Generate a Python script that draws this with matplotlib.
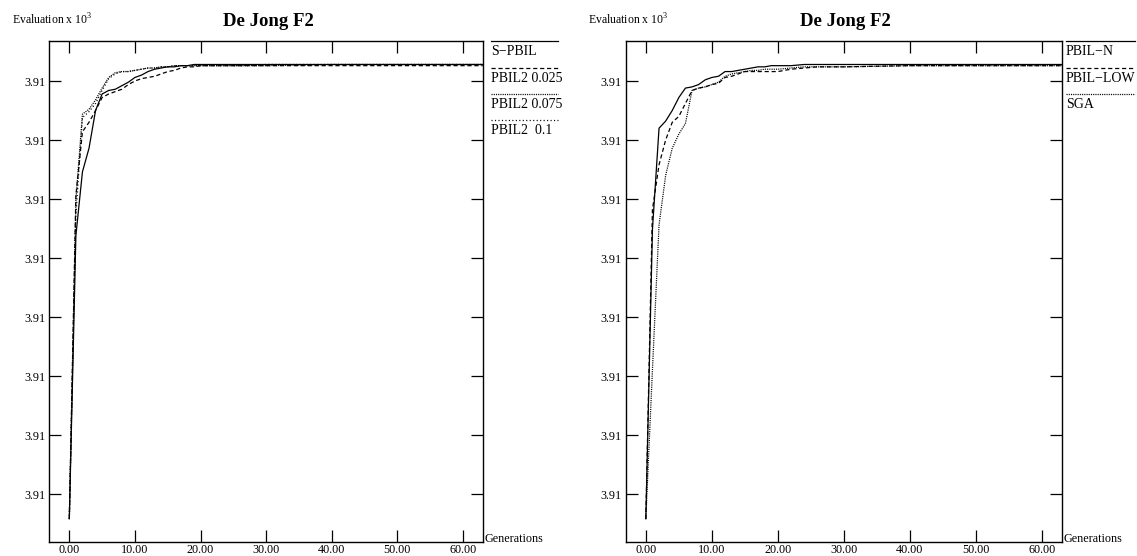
import matplotlib
matplotlib.use('Agg')
import matplotlib.pyplot as plt
from matplotlib.ticker import FormatStrFormatter

plt.rcParams['font.family'] = 'Liberation Serif'
plt.rcParams['mathtext.fontset'] = 'custom'
plt.rcParams['mathtext.rm'] = 'Liberation Serif'
plt.rcParams['lines.scale_dashes'] = False

W, H, DPI = 1137, 556, 100

# generations sampled for every curve
gens = [0, 1, 2, 3, 4, 5, 6, 7, 8, 9, 10, 11, 12, 13, 14, 15, 16, 17, 18, 19, 20,
        22, 24, 26, 30, 40, 50, 63]

# left panel (Evaluation x 10^3)
s_pbil = [3.90579, 3.90819, 3.90873, 3.90893, 3.90925, 3.90939, 3.90942, 3.90943, 3.90946, 3.90949,
          3.90953, 3.90955, 3.90958, 3.90960, 3.90961, 3.90962, 3.90962, 3.90963, 3.90963, 3.90964,
          3.90964, 3.90964, 3.90964, 3.90964, 3.90964, 3.90964, 3.90964, 3.90964]
pbil2_025 = [3.90579, 3.90853, 3.90907, 3.90915, 3.90925, 3.90936, 3.90939, 3.90941, 3.90943, 3.90947,
             3.90950, 3.90952, 3.90953, 3.90954, 3.90956, 3.90958, 3.90959, 3.90961, 3.90962, 3.90962,
             3.90963, 3.90963, 3.90963, 3.90963, 3.90963, 3.90963, 3.90963, 3.90963]
pbil2_075 = [3.90579, 3.90849, 3.90922, 3.90926, 3.90934, 3.90944, 3.90953, 3.90957, 3.90958, 3.90958,
             3.90959, 3.90960, 3.90961, 3.90961, 3.90962, 3.90962, 3.90963, 3.90963, 3.90963, 3.90963,
             3.90963, 3.90963, 3.90963, 3.90963, 3.90963, 3.90964, 3.90964, 3.90964]
pbil2_1 = [3.90579, 3.90836, 3.90919, 3.90924, 3.90931, 3.90942, 3.90952, 3.90956, 3.90958, 3.90958,
           3.90959, 3.90960, 3.90961, 3.90961, 3.90962, 3.90962, 3.90963, 3.90963, 3.90963, 3.90963,
           3.90963, 3.90963, 3.90963, 3.90963, 3.90964, 3.90964, 3.90964, 3.90964]

# right panel
pbil_n = [3.90579, 3.90824, 3.90910, 3.90916, 3.90925, 3.90936, 3.90944, 3.90945, 3.90947, 3.90951,
          3.90953, 3.90954, 3.90958, 3.90958, 3.90959, 3.90960, 3.90961, 3.90962, 3.90962, 3.90963,
          3.90963, 3.90963, 3.90964, 3.90964, 3.90964, 3.90964, 3.90964, 3.90964]
pbil_low = [3.90579, 3.90841, 3.90879, 3.90900, 3.90915, 3.90920, 3.90931, 3.90942, 3.90944, 3.90945,
            3.90947, 3.90948, 3.90953, 3.90954, 3.90956, 3.90958, 3.90958, 3.90958, 3.90958, 3.90958,
            3.90958, 3.90960, 3.90961, 3.90962, 3.90962, 3.90963, 3.90963, 3.90963]
sga = [3.90579, 3.90705, 3.90828, 3.90870, 3.90893, 3.90905, 3.90914, 3.90942, 3.90944, 3.90945,
       3.90947, 3.90949, 3.90954, 3.90956, 3.90957, 3.90958, 3.90959, 3.90959, 3.90960, 3.90960,
       3.90960, 3.90961, 3.90962, 3.90962, 3.90962, 3.90963, 3.90963, 3.90963]

left_labels = ['S\u2212PBIL', 'PBIL2 0.025', 'PBIL2 0.075', 'PBIL2  0.1']
right_labels = ['PBIL\u2212N', 'PBIL\u2212LOW', 'SGA']
title = 'De Jong F2'
x_ticks = [0, 10, 20, 30, 40, 50, 60]
y_ticks = [3.9060, 3.9065, 3.9070, 3.9075, 3.9080, 3.9085, 3.9090, 3.9095]

styles = ['-', (0, (3.0, 2.0)), (0, (0.8, 0.8)), (0, (0.8, 1.7))]


def px(x, y):  # figure pixels (from top-left) -> inches for dpi_scale_trans
    return x / DPI, (H - y) / DPI


def draw_panel(fig, left, width, series, labels, leg_x0, leg_x1, ylabel_x):
    top, bottom = 41, 541.7
    ax = fig.add_axes([left / W, 1 - bottom / H, width / W, (bottom - top) / H])
    for ys, ls in zip(series, styles):
        ax.plot(gens, ys, color='black', lw=0.9, linestyle=ls)
    ax.set_xlim(-3.05, 63.0)
    ax.set_ylim(3.905596, 3.909839)
    ax.set_xticks(x_ticks)
    ax.set_yticks(y_ticks)
    ax.xaxis.set_major_formatter(FormatStrFormatter('%.2f'))
    ax.yaxis.set_major_formatter(FormatStrFormatter('%.2f'))
    ax.tick_params(direction='in', length=8.6, width=0.9, top=True, right=True,
                   labelsize=8.7, colors='black')
    ax.tick_params(axis='x', pad=2)
    ax.tick_params(axis='y', pad=3)
    for sp in ax.spines.values():
        sp.set_linewidth(1.0)

    # xgraph-like legend: line above each label, right of the plot
    for i, (lab, ls) in enumerate(zip(labels, styles)):
        ly = 41 + 26.5 * i
        x0, y0 = px(leg_x0, ly)
        x1, _ = px(leg_x1, ly)
        ax.plot([x0, x1], [y0, y0], color='black', lw=0.9, linestyle=ls,
                transform=fig.dpi_scale_trans, clip_on=False)
        tx, ty = px(leg_x0, ly + 14)
        fig.text(tx, ty, lab, fontsize=10, va='baseline', ha='left',
                 transform=fig.dpi_scale_trans)

    cx, cy = px(left + width / 2 + 2, 26)
    fig.text(cx, cy, title, fontsize=13.5, fontweight='bold', ha='center', va='baseline',
             transform=fig.dpi_scale_trans)
    lx, ly = px(ylabel_x, 25)
    fig.text(lx, ly, 'Evaluation x 10$^3$', fontsize=8.5, va='baseline', ha='left',
             transform=fig.dpi_scale_trans)
    gx, gy = px(left + width + 2, bottom)
    fig.text(gx, gy, 'Generations', fontsize=8.7, va='baseline', ha='left',
             transform=fig.dpi_scale_trans)
    return ax


fig = plt.figure(figsize=(W / DPI, H / DPI), dpi=DPI)
draw_panel(fig, 49.3, 433.4, [s_pbil, pbil2_025, pbil2_075, pbil2_1], left_labels, 490.7, 558, 11.7)
draw_panel(fig, 625.7, 436.0, [pbil_n, pbil_low, sga], right_labels, 1066, 1135, 588)

fig.savefig('out.png', dpi=DPI)
